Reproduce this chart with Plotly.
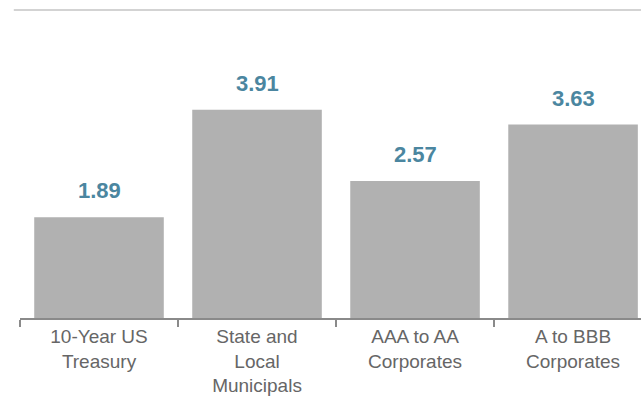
import plotly.graph_objects as go

categories = ["10-Year US<br>Treasury", "State and<br>Local<br>Municipals",
              "AAA to AA<br>Corporates", "A to BBB<br>Corporates"]
values = [1.89, 3.91, 2.57, 3.63]
labels = ["1.89", "3.91", "2.57", "3.63"]

fig = go.Figure()
fig.add_trace(go.Bar(
    x=categories, y=values,
    marker=dict(color="#b1b1b1", line=dict(width=0)),
    hoverinfo="skip",
))

for c, v, t in zip(categories, values, labels):
    fig.add_annotation(x=c, y=v, text=t, showarrow=False, yanchor="bottom",
                       yshift=12,
                       font=dict(family="Liberation Sans, Arial", size=22,
                                 color="#4b86a0", weight="bold"))

fig.add_shape(type="line", xref="paper", yref="paper", x0=-0.01, x1=1, y0=1, y1=1,
              line=dict(color="#c4c4c4", width=1.5))

fig.update_layout(
    width=641, height=412,
    margin=dict(l=20, r=0, t=10, b=94),
    paper_bgcolor="white", plot_bgcolor="white",
    bargap=0.18,
    showlegend=False,
    xaxis=dict(range=[-0.5, 3.43], tickson="boundaries", ticks="outside",
               ticklen=7, tickwidth=2, tickcolor="#8a8a8a",
               showline=True, linecolor="#8a8a8a", linewidth=2,
               showgrid=False, zeroline=False,
               tickfont=dict(family="Liberation Sans, Arial", size=19, color="#666666")),
    yaxis=dict(range=[0, 5.78], visible=False, showgrid=False, zeroline=False),
)

fig.write_html("out.html", config={"displayModeBar": False},
               post_script="document.body.style.margin='0';document.body.style.overflow='hidden';")
